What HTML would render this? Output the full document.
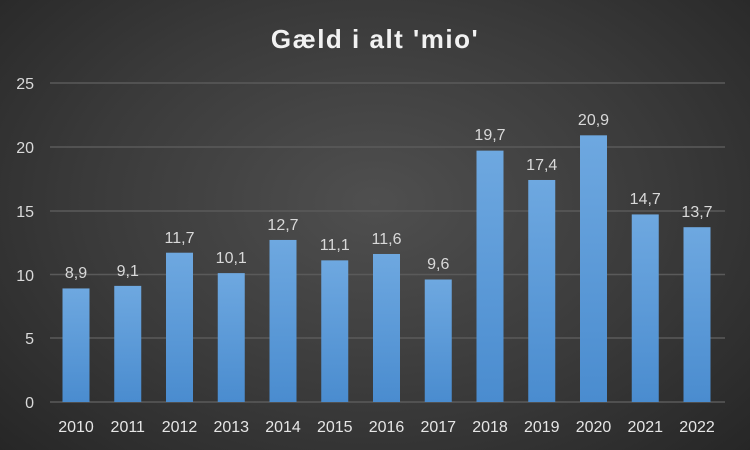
<!DOCTYPE html>
<html><head><meta charset="utf-8"><style>
html,body{margin:0;padding:0;width:750px;height:450px;overflow:hidden}
body{background:radial-gradient(ellipse 70% 80% at 50% 45%,#4f4f4f 0%,#3a3a3a 55%,#262626 100%);font-family:"Liberation Sans",sans-serif}
</style></head><body>
<svg width="750" height="450" xmlns="http://www.w3.org/2000/svg" style="position:absolute;left:0;top:0">
<defs><linearGradient id="g" x1="0" y1="0" x2="0" y2="1"><stop offset="0" stop-color="#6ea8e0"/><stop offset="1" stop-color="#4a8ccf"/></linearGradient></defs>
<text x="375" y="48" fill="#f2f2f2" font-size="26" font-weight="bold" text-anchor="middle" letter-spacing="1.5">Gæld i alt 'mio'</text>
<g stroke="#5a5a5a" stroke-width="1.5">
<line x1="50" x2="725" y1="83" y2="83"/><line x1="50" x2="725" y1="147" y2="147"/><line x1="50" x2="725" y1="211" y2="211"/><line x1="50" x2="725" y1="274.5" y2="274.5"/><line x1="50" x2="725" y1="338" y2="338"/><line x1="50" x2="725" y1="402" y2="402"/>
</g>
<g fill="#d9d9d9" font-size="16" text-anchor="end">
<text x="34" y="89">25</text><text x="34" y="153">20</text><text x="34" y="217">15</text><text x="34" y="281">10</text><text x="34" y="344">5</text><text x="34" y="408">0</text>
</g>
<g fill="url(#g)">
<rect x="62.5" y="288.44" width="27" height="113.56"/>
<rect x="114.25" y="285.88" width="27" height="116.12"/>
<rect x="166" y="252.71" width="27" height="149.29"/>
<rect x="217.75" y="273.12" width="27" height="128.88"/>
<rect x="269.5" y="239.95" width="27" height="162.05"/>
<rect x="321.25" y="260.36" width="27" height="141.64"/>
<rect x="373" y="253.98" width="27" height="148.02"/>
<rect x="424.75" y="279.5" width="27" height="122.5"/>
<rect x="476.5" y="150.63" width="27" height="251.37"/>
<rect x="528.25" y="179.98" width="27" height="222.02"/>
<rect x="580" y="135.32" width="27" height="266.68"/>
<rect x="631.75" y="214.43" width="27" height="187.57"/>
<rect x="683.5" y="227.19" width="27" height="174.81"/>
</g>
<g fill="#d9d9d9" font-size="16" text-anchor="middle">
<text x="76" y="278">8,9</text>
<text x="127.75" y="276">9,1</text>
<text x="179.5" y="243">11,7</text>
<text x="231.25" y="263">10,1</text>
<text x="283" y="230">12,7</text>
<text x="334.75" y="250">11,1</text>
<text x="386.5" y="244">11,6</text>
<text x="438.25" y="269">9,6</text>
<text x="490" y="140">19,7</text>
<text x="541.75" y="170">17,4</text>
<text x="593.5" y="125">20,9</text>
<text x="645.25" y="204">14,7</text>
<text x="697" y="217">13,7</text>
</g>
<g fill="#e6e6e6" font-size="16" text-anchor="middle">
<text x="76" y="432">2010</text>
<text x="127.75" y="432">2011</text>
<text x="179.5" y="432">2012</text>
<text x="231.25" y="432">2013</text>
<text x="283" y="432">2014</text>
<text x="334.75" y="432">2015</text>
<text x="386.5" y="432">2016</text>
<text x="438.25" y="432">2017</text>
<text x="490" y="432">2018</text>
<text x="541.75" y="432">2019</text>
<text x="593.5" y="432">2020</text>
<text x="645.25" y="432">2021</text>
<text x="697" y="432">2022</text>
</g>
</svg>
</body></html>
